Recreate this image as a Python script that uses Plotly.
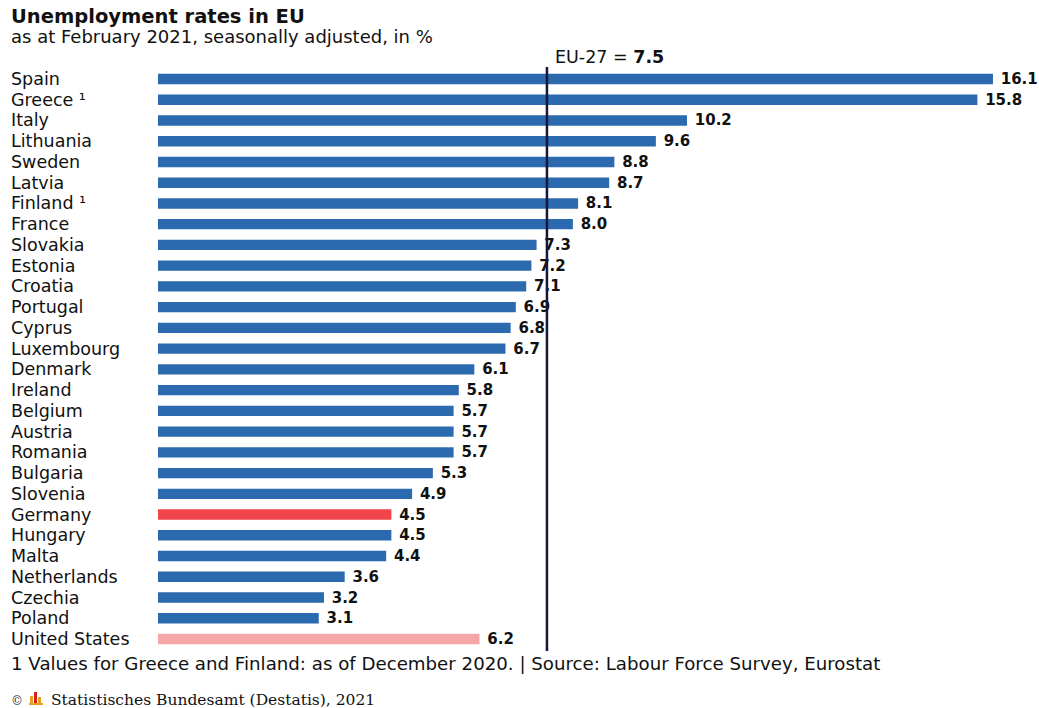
import plotly.graph_objects as go

countries = ["Spain", "Greece ¹", "Italy", "Lithuania", "Sweden", "Latvia", "Finland ¹", "France",
             "Slovakia", "Estonia", "Croatia", "Portugal", "Cyprus", "Luxembourg", "Denmark", "Ireland",
             "Belgium", "Austria", "Romania", "Bulgaria", "Slovenia", "Germany", "Hungary", "Malta",
             "Netherlands", "Czechia", "Poland", "United States"]
rates = [16.1, 15.8, 10.2, 9.6, 8.8, 8.7, 8.1, 8.0, 7.3, 7.2, 7.1, 6.9, 6.8, 6.7, 6.1, 5.8,
         5.7, 5.7, 5.7, 5.3, 4.9, 4.5, 4.5, 4.4, 3.6, 3.2, 3.1, 6.2]
eu_average = 7.5

BLUE = "#2b6aae"
RED = "#f0454a"
PINK = "#f5a7a8"
colors = [RED if c == "Germany" else PINK if c == "United States" else BLUE for c in countries]

FONT = "DejaVu Sans"
W, H = 1039, 708
L, R, T, B = 158, 0, 67, 57
plot_w = W - L - R
plot_h = H - T - B


def px_x(px):
    return (px - L) / plot_w


def px_y(py):
    return 1 - (py - T) / plot_h


fig = go.Figure()
fig.add_trace(go.Bar(
    x=rates, y=countries, orientation="h",
    marker=dict(color=colors, line=dict(width=0)),
    width=0.5,
    text=[f"\u00a0<b>{v:.1f}</b>" for v in rates],
    textposition="outside",
    constraintext="none",
    textfont=dict(family=FONT, size=15, color="#111111"),
    cliponaxis=False,
    hoverinfo="skip",
))

fig.add_shape(type="line", xref="x", yref="paper", x0=eu_average, x1=eu_average, y0=0, y1=1.0,
              line=dict(color="#14163a", width=2.5), layer="above")

ann = []
for c in countries:
    ann.append(dict(x=px_x(9), xref="paper", y=c, yref="y", text=c,
                    showarrow=False, xanchor="left", yanchor="middle",
                    font=dict(family=FONT, size=17.5, color="#111111")))


def txt(x, y, text, size, family=FONT, color="#111111"):
    return dict(x=px_x(x), y=px_y(y), xref="paper", yref="paper", xanchor="left", yanchor="middle",
                text=text, showarrow=False, font=dict(family=family, size=size, color=color))


ann.append(txt(9, 17, "<b>Unemployment rates in EU</b>", 19.5))
ann.append(txt(9, 37, "as at February 2021, seasonally adjusted, in %", 18))
ann.append(txt(553, 57, f"EU-27 = <b>{eu_average}</b>", 17.5))
ann.append(txt(9, 663, "1 Values for Greece and Finland: as of December 2020. | Source: Labour Force Survey, Eurostat", 18.2))
ann.append(txt(9, 701, "©", 12, family="DejaVu Serif", color="#333333"))
ann.append(txt(49, 700, "Statistisches Bundesamt (Destatis), 2021", 15.5, family="DejaVu Serif"))

# small logo bars
logo = [(30, 33, 696, 703, "#e8a020"), (34, 37, 692, 703, "#d02020"), (38, 41, 697, 703, "#e8a020"),
        (29, 43, 703, 705, "#e8a020")]
for x0, x1, y0, y1, col in logo:
    fig.add_shape(type="rect", xref="paper", yref="paper", x0=px_x(x0), x1=px_x(x1),
                  y0=px_y(y1), y1=px_y(y0), fillcolor=col, line=dict(width=0))

fig.update_layout(
    width=W, height=H,
    margin=dict(l=L, r=R, t=T, b=B, pad=0),
    paper_bgcolor="white", plot_bgcolor="white",
    showlegend=False,
    annotations=ann,
    xaxis=dict(range=[0, plot_w / 51.86], visible=False, fixedrange=True),
    yaxis=dict(categoryorder="array", categoryarray=countries, autorange="reversed",
               showticklabels=False, showgrid=False, zeroline=False, showline=False, ticks=""),
)

fig.write_html("out.html", config={"displayModeBar": False},
               post_script="document.body.style.margin='0';")
